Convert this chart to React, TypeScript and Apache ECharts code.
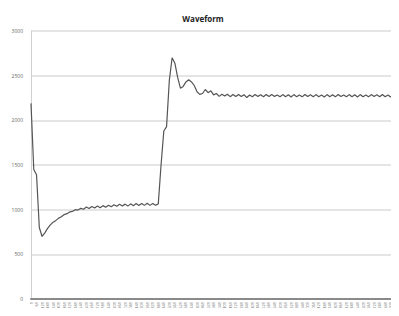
import React, { useEffect, useRef } from "react";
import * as echarts from "echarts";

const STEP = 30;
const values: number[] = [
  2190, 1450, 1390, 800, 700, 740, 790, 830, 860, 880,
  905, 920, 945, 955, 975, 980, 1000, 995, 1015, 1005,
  1030, 1012, 1035, 1018, 1040, 1022, 1045, 1028, 1050, 1032,
  1055, 1038, 1060, 1042, 1062, 1040, 1065, 1045, 1068, 1046,
  1070, 1048, 1072, 1048, 1070, 1050, 1065, 1500, 1880, 1930,
  2450, 2700, 2640, 2480, 2360, 2380, 2430, 2455, 2430, 2390,
  2320, 2290, 2300, 2345, 2310, 2330, 2285, 2300, 2268, 2292,
  2272, 2292, 2265, 2288, 2268, 2290, 2266, 2286, 2255, 2283,
  2265, 2288, 2268, 2286, 2264, 2290, 2266, 2288, 2268, 2284,
  2263, 2288, 2265, 2286, 2262, 2288, 2265, 2284, 2263, 2290,
  2267, 2286, 2264, 2288, 2265, 2284, 2262, 2288, 2265, 2286,
  2263, 2290, 2267, 2284, 2263, 2288, 2265, 2286, 2262, 2288,
  2265, 2284, 2263, 2288, 2267, 2286, 2264, 2290, 2265, 2284,
  2262, 2288, 2265, 2280,
];
const categories: string[] = values.map((_, i) => String(1 + i * STEP));
const yTicks = [0, 500, 1000, 1500, 2000, 2500, 3000];

export default function App() {
  const ref = useRef<HTMLDivElement>(null);
  useEffect(() => {
    if (!ref.current) return;
    const chart = echarts.init(ref.current, undefined, { renderer: "svg" });
    chart.setOption({
      animation: false,
      backgroundColor: "#ffffff",
      title: {
        text: "Waveform",
        left: 198,
        top: 9,
        textAlign: "center",
        textStyle: {
          fontFamily: "Open Sans",
          fontWeight: "bold",
          fontSize: 8,
          color: "#222",
        },
      },
      grid: { left: 31, right: 0, top: 31, bottom: 17, containLabel: false },
      xAxis: {
        type: "category",
        data: categories,
        boundaryGap: false,
        axisLine: { lineStyle: { color: "#8a8a8a", width: 2 } },
        axisTick: { show: false },
        axisLabel: {
          interval: 1,
          rotate: 90,
          fontSize: 4,
          color: "#666",
          margin: 3,
          fontFamily: "Open Sans",
        },
      },
      yAxis: {
        type: "value",
        min: yTicks[0],
        max: yTicks[yTicks.length - 1],
        interval: 500,
        axisLine: { show: true, lineStyle: { color: "#d0d0d0", width: 1 } },
        axisTick: { show: false },
        splitLine: { lineStyle: { color: "#dcdcdc", width: 1.5 } },
        axisLabel: {
          fontSize: 5,
          color: "#666",
          margin: 8,
          fontFamily: "Open Sans",
          formatter: (v: number) => String(v),
        },
      },
      series: [
        {
          type: "line",
          data: values,
          showSymbol: false,
          lineStyle: { color: "#555", width: 1.2 },
        },
      ],
    });
    return () => chart.dispose();
  }, []);
  return <div ref={ref} style={{ width: 399, height: 316, margin: -8 }} />;
}
